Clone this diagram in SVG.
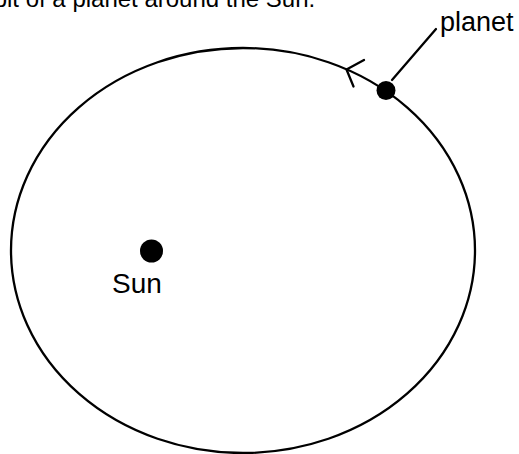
<svg xmlns="http://www.w3.org/2000/svg" width="519" height="454" viewBox="0 0 519 454">
<style>
.t{font-family:"Liberation Sans",Arial,sans-serif;fill:#000}
.s{fill:none;stroke:#000;stroke-width:2.3;stroke-linecap:round}
</style>
<rect width="519" height="454" fill="#fff"/>
<text class="t" x="-33" y="7" font-size="24">Orbit of a planet around the Sun.</text>
<g id="orbit">
<ellipse class="s" cx="243" cy="250.5" rx="232" ry="202.5"/>
<polyline class="s" points="364,60 346.5,69.5 353.5,86.5"/>
</g>
<g id="sun">
<circle cx="151.5" cy="251" r="11.5" fill="#000"/>
<text class="t" x="112" y="293" font-size="28">Sun</text>
</g>
<g id="planet">
<circle cx="386" cy="90.5" r="9.5" fill="#000"/>
<text class="t" x="440" y="31" font-size="27">planet</text>
</g>
<g id="connectors">
<line class="s" x1="392" y1="80" x2="436" y2="29"/>
</g>
</svg>
